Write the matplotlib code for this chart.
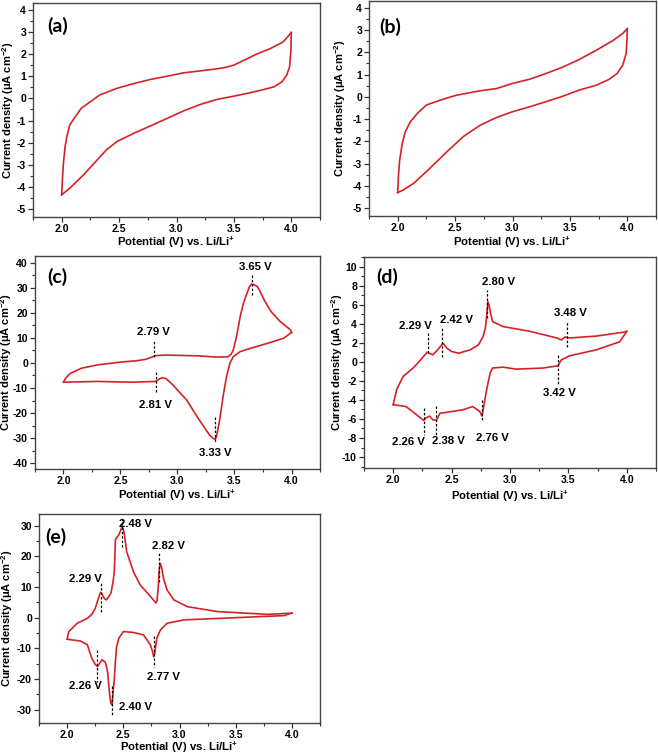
import matplotlib
matplotlib.use("Agg")
import matplotlib.pyplot as plt
from matplotlib.ticker import MultipleLocator

plt.rcParams['font.family'] = ['Liberation Sans', 'DejaVu Sans']
plt.rcParams['font.weight'] = 'bold'
plt.rcParams['axes.unicode_minus'] = False
plt.rcParams['mathtext.fontset'] = 'custom'
plt.rcParams['mathtext.bf'] = 'Liberation Sans:bold'
plt.rcParams['mathtext.rm'] = 'Liberation Sans:bold'

# ---------------- data ----------------
# panel (a)
a_v_fwd = [2.00, 2.006, 2.015, 2.03, 2.045, 2.07, 2.12, 2.17, 2.25, 2.33, 2.48, 2.63, 2.77, 2.92, 3.06, 3.21, 3.35, 3.43,
           3.50, 3.58, 3.70, 3.82, 3.93, 4.00]
a_i_fwd = [-4.35, -3.67, -2.92, -2.17, -1.72, -1.20, -0.82, -0.45, -0.15, 0.15, 0.45, 0.67, 0.85, 1.00, 1.15, 1.24, 1.33, 1.40,
           1.50, 1.70, 2.00, 2.25, 2.55, 2.97]
a_v_rev = [4.00, 3.997, 3.985, 3.96, 3.92, 3.85, 3.76, 3.64, 3.50, 3.35, 3.21, 3.06, 2.92, 2.77, 2.63, 2.48, 2.39, 2.31,
           2.19, 2.07, 2.00]
a_i_rev = [2.97, 2.17, 1.42, 1.05, 0.75, 0.52, 0.40, 0.25, 0.10, -0.05, -0.27, -0.57, -0.90, -1.25, -1.57, -1.95, -2.32, -2.77,
           -3.45, -4.05, -4.35]

# panel (b)
b_v_fwd = [2.00, 2.006, 2.017, 2.04, 2.066, 2.11, 2.17, 2.25, 2.37, 2.51, 2.72, 2.86, 3.00, 3.15, 3.29, 3.44, 3.58, 3.73,
           3.87, 3.96, 4.00]
b_i_fwd = [-4.30, -3.58, -2.84, -2.09, -1.57, -1.12, -0.75, -0.37, -0.15, 0.07, 0.27, 0.37, 0.60, 0.79, 1.04, 1.34, 1.67, 2.09,
           2.51, 2.84, 3.06]
b_v_rev = [4.00, 3.997, 3.99, 3.96, 3.91, 3.84, 3.73, 3.58, 3.44, 3.29, 3.15, 3.00, 2.86, 2.72, 2.57, 2.43, 2.28, 2.14,
           2.05, 2.00]
b_i_rev = [3.06, 2.54, 1.94, 1.42, 1.04, 0.78, 0.52, 0.30, 0.03, -0.22, -0.45, -0.67, -0.93, -1.27, -1.79, -2.46, -3.21, -3.88,
           -4.18, -4.30]

# panel (c)
c_v_fwd = [2.00, 2.02, 2.06, 2.16, 2.30, 2.50, 2.65, 2.72, 2.78, 2.81, 2.90, 3.19, 3.34, 3.44, 3.47, 3.49, 3.52, 3.55, 3.58,
           3.61, 3.63, 3.65, 3.67, 3.70, 3.73, 3.76, 3.82, 3.90, 3.99, 4.00]
c_i_fwd = [-7.7, -6.0, -4.2, -2.1, -0.8, 0.3, 0.9, 1.4, 2.4, 2.9, 3.1, 2.8, 2.3, 2.4, 3.4, 5.2, 11.0, 18.5, 24.0,
           27.8, 30.3, 31.4, 31.2, 30.4, 28.0, 25.1, 20.5, 16.5, 13.2, 12.1]
c_v_rev = [4.00, 3.93, 3.79, 3.64, 3.55, 3.49, 3.46, 3.43, 3.40, 3.37, 3.35, 3.34, 3.33, 3.31, 3.28, 3.19, 3.08, 2.96,
           2.90, 2.87, 2.84, 2.81, 2.60, 2.30, 2.00]
c_i_rev = [12.1, 9.8, 7.8, 5.8, 4.5, 2.5, -0.1, -5.4, -13.4, -22.7, -27.5, -29.6, -30.4, -30.0, -28.7, -22.7, -14.8, -8.8,
           -6.3, -5.9, -6.4, -7.4, -7.7, -7.4, -7.7]

# panel (d)
d_v_fwd = [2.00, 2.03, 2.085, 2.17, 2.21, 2.26, 2.29, 2.31, 2.34, 2.38, 2.42, 2.43, 2.46, 2.50, 2.56, 2.66, 2.73, 2.77,
           2.79, 2.80, 2.81, 2.82, 2.83, 2.85, 2.94, 3.17, 3.40, 3.44, 3.47, 3.51, 3.74, 3.97, 4.00]
d_i_fwd = [-4.5, -2.9, -1.54, -0.66, -0.14, 0.56, 1.00, 0.90, 0.73, 1.26, 1.85, 1.90, 1.43, 1.08, 0.90, 1.26, 1.78, 2.66,
           3.6, 4.8, 6.3, 6.0, 5.3, 4.23, 3.7, 3.2, 2.5, 2.3, 2.6, 2.5, 2.7, 3.1, 3.2]
d_v_rev = [4.00, 3.94, 3.74, 3.51, 3.44, 3.41, 3.28, 3.05, 2.94, 2.85, 2.83, 2.80, 2.78, 2.77, 2.76, 2.74, 2.68, 2.60,
           2.46, 2.40, 2.37, 2.34, 2.31, 2.28, 2.26, 2.21, 2.11, 2.00]
d_i_rev = [3.2, 2.1, 1.26, 0.63, 0.2, -0.42, -0.66, -0.77, -0.56, -0.66, -1.19, -2.94, -4.3, -5.03, -5.7, -5.2, -4.7, -5.03,
           -5.3, -5.4, -6.15, -6.1, -5.7, -5.9, -6.15, -5.66, -4.7, -4.5]

# panel (e)
e_v_fwd = [2.00, 2.015, 2.09, 2.18, 2.22, 2.25, 2.27, 2.29, 2.30, 2.31, 2.33, 2.35, 2.39, 2.41, 2.42, 2.43, 2.46, 2.48,
           2.49, 2.50, 2.51, 2.53, 2.59, 2.65, 2.74, 2.79, 2.80, 2.81, 2.82, 2.83, 2.84, 2.86, 2.89, 2.95, 3.07, 3.34, 3.78, 4.00]
e_i_fwd = [-7.0, -4.5, -1.8, -0.2, 1.1, 3.0, 5.3, 7.6, 8.3, 7.8, 6.3, 5.8, 8.0, 12.0, 15.0, 25.5, 27.0, 28.8,
           29.7, 28.8, 27.0, 21.5, 15.0, 10.7, 7.0, 4.8, 5.5, 9.5, 16.0, 17.7, 16.5, 12.5, 9.0, 5.8, 3.6, 2.0, 1.1, 1.5]
e_v_rev = [4.00, 3.93, 3.49, 3.04, 2.89, 2.83, 2.80, 2.79, 2.78, 2.77, 2.76, 2.74, 2.68, 2.59, 2.50, 2.46, 2.44, 2.43,
           2.42, 2.41, 2.40, 2.39, 2.38, 2.36, 2.34, 2.31, 2.29, 2.27, 2.25, 2.22, 2.18, 2.12, 2.00]
e_i_rev = [1.5, 0.7, 0.0, -0.7, -1.8, -4.0, -6.5, -8.8, -11.5, -12.7, -11.0, -8.8, -5.6, -4.8, -4.5, -6.7, -9.5, -14.3,
           -20.0, -24.0, -28.4, -28.0, -25.6, -17.5, -14.5, -13.7, -14.8, -15.9, -15.2, -13.2, -8.8, -7.6, -7.0]

# annotation markers: (dashed line x, y0, y1, label, label x, label y)
c_marks = [(3.65, 27.0, 35.5, '3.65 V', 3.68, 38.4), (2.79, 2.5, 9.2, '2.79 V', 2.79, 12.5),
           (2.81, -3.5, -12.1, '2.81 V', 2.81, -16.7), (3.33, -21.4, -31.4, '3.33 V', 3.33, -36.0)]
d_marks = [(2.30, 0.9, 3.0, '2.29 V', 2.19, 3.78), (2.42, 0.49, 3.53, '2.42 V', 2.54, 4.34),
           (2.80, 4.58, 7.55, '2.80 V', 2.90, 8.36), (3.49, 1.54, 4.23, '3.48 V', 3.52, 5.1),
           (3.41, 0.73, -2.41, '3.42 V', 3.42, -3.3), (2.26, -4.86, -7.66, '2.26 V', 2.13, -8.46),
           (2.37, -4.6, -7.66, '2.38 V', 2.47, -8.36), (2.76, -4.0, -6.26, '2.76 V', 2.85, -8.0)]
e_marks = [(2.49, 23.1, 32.9, '2.48 V', 2.61, 30.7), (2.82, 11.8, 21.5, '2.82 V', 2.90, 23.5),
           (2.30, 2.0, 11.8, '2.29 V', 2.16, 12.6), (2.27, -10.5, -20.8, '2.26 V', 2.16, -22.2),
           (2.40, -22.4, -31.8, '2.40 V', 2.61, -29.2), (2.77, -6.1, -15.9, '2.77 V', 2.86, -19.4)]

x_ticks = [2.0, 2.5, 3.0, 3.5, 4.0]

# ---------------- figure ----------------
W, H = 658, 755
fig = plt.figure(figsize=(W / 100, H / 100), dpi=100)

RED = '#d42327'
panels = [
    dict(box=(33, 320, 3, 217), ylim=(-5.35, 4.3), ymaj=1, ymin=0.5, tag='(a)', tagpos=(0.085, 0.895),
         ylab_x=8, xlab_y=242, data=(a_v_fwd, a_i_fwd, a_v_rev, a_i_rev), marks=[]),
    dict(box=(369, 656, 1, 216), ylim=(-5.35, 4.3), ymaj=1, ymin=0.5, tag='(b)', tagpos=(0.075, 0.88),
         ylab_x=340, xlab_y=242, data=(b_v_fwd, b_i_fwd, b_v_rev, b_i_rev), marks=[]),
    dict(box=(35, 320, 256, 469), ylim=(-42.3, 42.6), ymaj=10, ymin=5, tag='(c)', tagpos=(0.08, 0.90),
         ylab_x=6, xlab_y=495.5, data=(c_v_fwd, c_i_fwd, c_v_rev, c_i_rev), marks=c_marks),
    dict(box=(364, 656, 257, 468), ylim=(-11.15, 11.0), ymaj=2, ymin=1, tag='(d)', tagpos=(0.08, 0.905),
         ylab_x=337, xlab_y=496, data=(d_v_fwd, d_i_fwd, d_v_rev, d_i_rev), marks=d_marks),
    dict(box=(39, 320, 514, 723), ylim=(-34.3, 33.8), ymaj=10, ymin=5, tag='(e)', tagpos=(0.06, 0.89),
         ylab_x=7, xlab_y=747, data=(e_v_fwd, e_i_fwd, e_v_rev, e_i_rev), marks=e_marks),
]

for p in panels:
    l, r, t, b = p['box']
    ax = fig.add_axes([l / W, 1 - b / H, (r - l) / W, (b - t) / H])
    vf, jf, vr, jr = p['data']
    ax.plot(vf, jf, color=RED, lw=1.2, solid_joinstyle='round')
    ax.plot(vr, jr, color=RED, lw=1.2, solid_joinstyle='round')
    for (mx, y0, y1, lab, lx, ly) in p['marks']:
        ax.plot([mx, mx], [y0, y1], color='black', lw=0.9, ls=(0, (2, 1.5)))
        ax.text(lx, ly, lab, ha='center', va='center', fontsize=8.2, fontweight='bold')
    ax.set_xlim(1.75, 4.25)
    ax.set_ylim(*p['ylim'])
    ax.set_xticks(x_ticks)
    ax.xaxis.set_minor_locator(MultipleLocator(0.25))
    ax.yaxis.set_major_locator(MultipleLocator(p['ymaj']))
    ax.yaxis.set_minor_locator(MultipleLocator(p['ymin']))
    ax.tick_params(which='both', direction='out', top=False, right=False, colors='#333333',
                   labelcolor='black', labelsize=7.6)
    ax.tick_params(which='major', length=3.5, width=0.9, pad=1.5)
    ax.tick_params(which='minor', length=2, width=0.8)
    for s in ax.spines.values():
        s.set_color('#444444')
        s.set_linewidth(1.0)
    ax.set_xlabel('Potential (V) vs. Li/Li$^{\\mathbf{+}}$', fontsize=8.2, fontweight='bold')
    ax.set_ylabel('Current density (μA cm$^{\\mathbf{-2}}$)', fontsize=8.0, fontweight='bold')
    ax.xaxis.set_label_coords(0.5, (b - p['xlab_y']) / (b - t))
    ax.yaxis.set_label_coords((p['ylab_x'] - l) / (r - l), 0.5)
    ax.xaxis.label.set_va('center')
    ax.yaxis.label.set_va('center')
    ax.text(p['tagpos'][0], p['tagpos'][1], p['tag'], transform=ax.transAxes, ha='center', va='center',
            fontsize=14, fontweight='bold', family=['Lato', 'DejaVu Sans'])

fig.savefig('out.png', dpi=100)
